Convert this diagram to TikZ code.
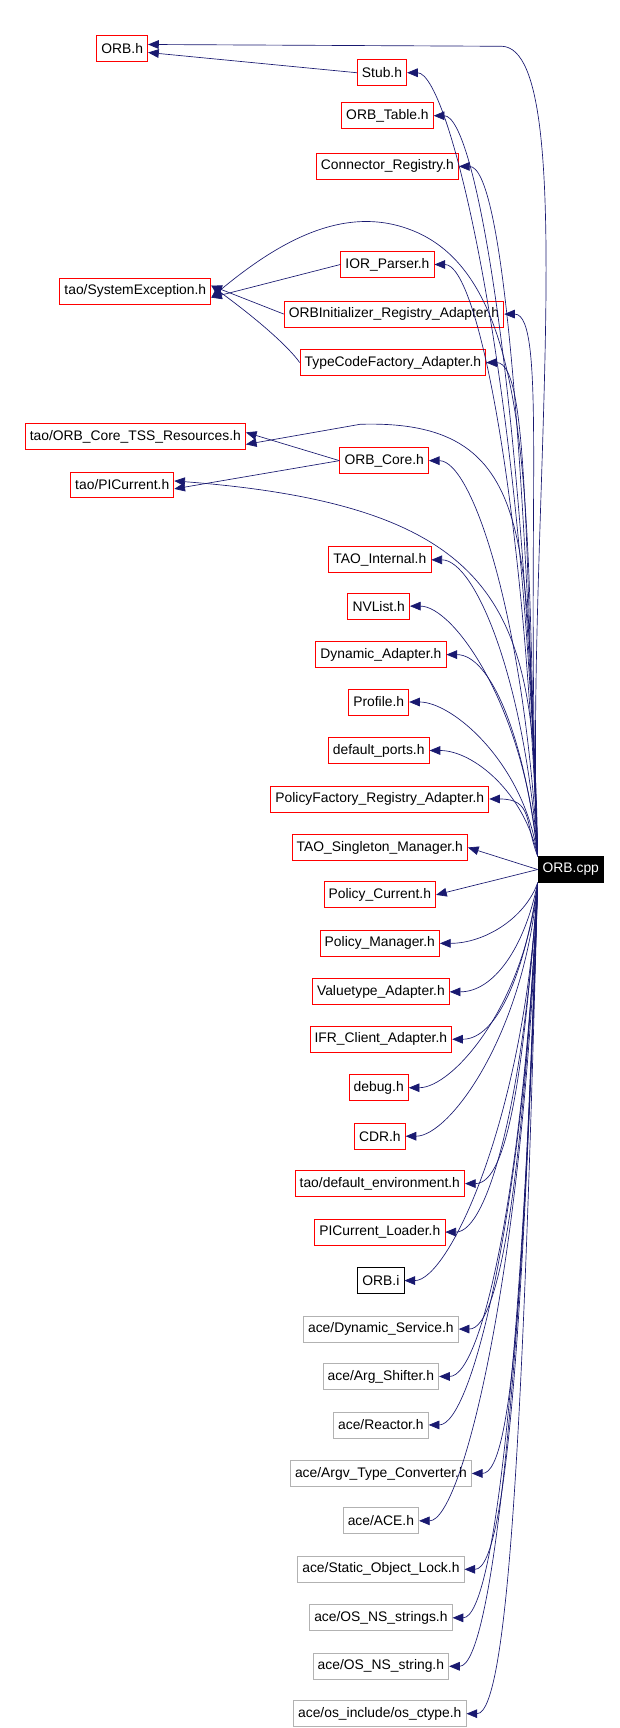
\documentclass[tikz,border=0pt]{standalone}
\usepackage{fontspec}
\setmainfont{Liberation Sans}
\usetikzlibrary{arrows.meta,calc}
\definecolor{edgec}{HTML}{191970}
\begin{document}
\begin{tikzpicture}[x=0.819pt,y=-0.827pt,
  box/.style={draw=red,line width=0.6pt,fill=white,font=\fontsize{10.4}{12}\selectfont,minimum height=19.5pt,inner xsep=3.5pt,inner ysep=0pt},
  gbox/.style={box,draw=black!30},
  kbox/.style={box,draw=black},
  cppbox/.style={box,draw=black,fill=black,text=white},
  edge/.style={draw=edgec,line width=0.5pt,-{Triangle[length=8pt,width=6.5pt]}}]
\useasboundingbox (0,0) rectangle (568,1568);
\node[box] (orbh) at (112,44) {ORB.h};
\node[box] (stub) at (350,66) {Stub.h};
\node[box] (tab) at (355,105) {ORB\_Table.h};
\node[box] (conn) at (355,151) {Connector\_Registry.h};
\node[box] (sysx) at (124,264) {tao/SystemException.h};
\node[box] (ior) at (355,240) {IOR\_Parser.h};
\node[box] (orbi) at (361,285) {ORBInitializer\_Registry\_Adapter.h};
\node[box] (tcf) at (360,329) {TypeCodeFactory\_Adapter.h};
\node[box] (tss) at (124,396) {tao/ORB\_Core\_TSS\_Resources.h};
\node[box] (core) at (352,418) {ORB\_Core.h};
\node[box] (pic) at (112,440) {tao/PICurrent.h};
\node[box] (tint) at (348,508) {TAO\_Internal.h};
\node[box] (nvl) at (347,550) {NVList.h};
\node[box] (dyn) at (349,594) {Dynamic\_Adapter.h};
\node[box] (prof) at (347,637) {Profile.h};
\node[box] (defp) at (347,681) {default\_ports.h};
\node[box] (pfr) at (348,725) {PolicyFactory\_Registry\_Adapter.h};
\node[box] (tsm) at (348,769) {TAO\_Singleton\_Manager.h};
\node[box] (pcur) at (348,812) {Policy\_Current.h};
\node[box] (pman) at (348,856) {Policy\_Manager.h};
\node[box] (vta) at (349,900) {Valuetype\_Adapter.h};
\node[box] (ifr) at (349,943) {IFR\_Client\_Adapter.h};
\node[box] (dbg) at (347,987) {debug.h};
\node[box] (cdr) at (348,1031) {CDR.h};
\node[box] (denv) at (348,1074) {tao/default\_environment.h};
\node[box] (picl) at (348,1118) {PICurrent\_Loader.h};
\node[kbox] (orbi2) at (349,1162) {ORB.i};
\node[gbox] (ads) at (349,1206) {ace/Dynamic\_Service.h};
\node[gbox] (aas) at (349,1249) {ace/Arg\_Shifter.h};
\node[gbox] (arr) at (349,1293) {ace/Reactor.h};
\node[gbox] (atc) at (349,1337) {ace/Argv\_Type\_Converter.h};
\node[gbox] (ace) at (349,1380) {ace/ACE.h};
\node[gbox] (sol) at (349,1424) {ace/Static\_Object\_Lock.h};
\node[gbox] (nss) at (349,1468) {ace/OS\_NS\_strings.h};
\node[gbox] (ns1) at (349,1512) {ace/OS\_NS\_string.h};
\node[gbox] (ctp) at (348,1555) {ace/os\_include/os\_ctype.h};
\node[cppbox] (cpp) at (523,789) {ORB.cpp};
% left-side includes
\draw[edge] (stub.west) -- ([yshift=-3]orbh.east);
\draw[edge] (ior.west) -- ([yshift=-5]sysx.east);
\draw[edge] (orbi.west) -- ([yshift=4]sysx.east);
\draw[edge] (tcf.west) .. controls (270,322) and (250,300) .. ([yshift=4]sysx.east);
\draw[edge] (core.west) -- ([yshift=3]tss.east);
\draw[edge] (core.west) -- ([yshift=-3]pic.east);
% from ORB.cpp, long ones
\draw[edge] (cpp.north west) .. controls (480,500) and (535,45) .. (460,42) -- ([yshift=3]orbh.east);
\draw[edge] (cpp.north west) .. controls (480,500) and (500,260) .. (380,210) .. controls (320,185) and (260,215) .. ([yshift=-5]sysx.east);
\draw[edge] (cpp.north west) .. controls (480,500) and (500,380) .. (330,385) -- ([yshift=-6]tss.east);
\draw[edge] (cpp.north west) .. controls (490,560) and (470,460) .. ([yshift=3]pic.east);
% right column
\foreach \n in {stub,tab,conn,ior,orbi,tcf,core,tint,nvl,dyn,prof,defp,pfr}
  \draw[edge] (cpp.north west) .. controls ($(cpp.north west)!0.6!(cpp.north west|-\n.east)+(-12,0)$) and ($(\n.east)+(40,0)$) .. (\n.east);
\draw[edge] (cpp.west) -- (tsm.east);
\draw[edge] (cpp.west) -- (pcur.east);
\foreach \n in {pman,vta,ifr,dbg,cdr,denv,picl,orbi2,ads,aas,arr,atc,ace,sol,nss,ns1,ctp}
  \draw[edge] (cpp.south west) .. controls ($(cpp.south west)!0.6!(cpp.south west|-\n.east)+(-12,0)$) and ($(\n.east)+(40,0)$) .. (\n.east);
\end{tikzpicture}
\end{document}
